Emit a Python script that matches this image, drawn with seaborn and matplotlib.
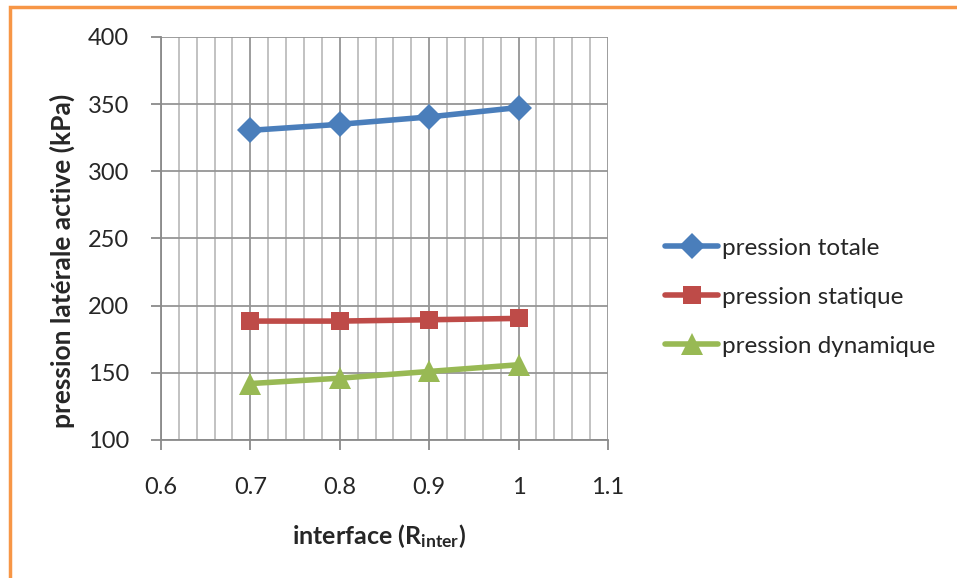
import matplotlib
matplotlib.use("Agg")
import matplotlib.pyplot as plt
import seaborn as sns
import pandas as pd
from matplotlib.patches import Rectangle
from matplotlib.ticker import MultipleLocator

# data
interface = [0.7, 0.8, 0.9, 1.0]
pression_totale = [330.5, 335, 340.5, 347.5]
pression_statique = [188.5, 188.5, 189.5, 190.5]
pression_dynamique = [142, 146, 151, 156]
series_names = ["pression totale", "pression statique", "pression dynamique"]
series_colors = ["#4a7ebb", "#be4b48", "#98b954"]
series_markers = ["D", "s", "^"]
x_ticks = [0.6, 0.7, 0.8, 0.9, 1.0, 1.1]
x_ticklabels = ["0.6", "0.7", "0.8", "0.9", "1", "1.1"]

sns.set_style("white")
plt.rcParams["font.family"] = ["Lato", "DejaVu Sans"]
plt.rcParams["mathtext.default"] = "regular"

df = pd.DataFrame({
    "interface": interface * 3,
    "pression": pression_totale + pression_statique + pression_dynamique,
    "serie": [s for s in series_names for _ in interface],
})

fig = plt.figure(figsize=(9.57, 5.78), dpi=100)
ax = fig.add_axes([0.1682, 0.2388, 0.4671, 0.6972])

sns.lineplot(data=df, x="interface", y="pression", hue="serie", style="serie",
             palette=dict(zip(series_names, series_colors)),
             markers=dict(zip(series_names, series_markers)),
             dashes=False, linewidth=4, markersize=13.5,
             markeredgewidth=0, ax=ax, zorder=3)

# triangles look a bit bigger in the original
for line in ax.lines:
    if line.get_marker() == "^":
        line.set_markersize(15.5)

ax.set_xlim(0.6, 1.1)
ax.set_ylim(100, 400)
ax.xaxis.set_minor_locator(MultipleLocator(0.02))
ax.yaxis.set_major_locator(MultipleLocator(50))
ax.set_xticks(x_ticks)
ax.set_xticklabels(x_ticklabels)

ax.grid(which="major", axis="both", color="#959595", linewidth=1.3)
ax.grid(which="minor", axis="x", color="#bdbdbd", linewidth=1.3)
ax.set_axisbelow(True)

for side in ["top", "right"]:
    ax.spines[side].set_visible(False)
for side in ["left", "bottom"]:
    ax.spines[side].set_color("#8a8a8a")
    ax.spines[side].set_linewidth(1.3)

ax.tick_params(axis="both", which="major", direction="out", length=7, width=1.3,
               color="#8a8a8a", labelsize=17, pad=16, left=True, bottom=True)
ax.tick_params(axis="x", which="minor", length=0)
ax.tick_params(axis="x", which="major", pad=20)

ax.set_xlabel(r"interface (R$_{inter}$)", fontsize=18, fontweight="bold")
ax.set_ylabel("pression latérale active (kPa)", fontsize=19, fontweight="bold")
ax.xaxis.set_label_coords(0.488, -0.205)
ax.yaxis.set_label_coords(-0.192, 0.444)

leg = ax.legend(loc="center left", bbox_to_anchor=(1.1275, 0.354), frameon=False,
                borderaxespad=0, borderpad=0,
                fontsize=17.5, handlelength=2.2, handletextpad=0.15, labelspacing=1.15)
for h in leg.legend_handles:
    if h.get_marker() == "^":
        h.set_markersize(15.5)

# orange outer border like the spreadsheet chart area
fig.patches.append(Rectangle((10 / 957, -0.05), 1.1, 1 - 6.5 / 578 + 0.05,
                             transform=fig.transFigure, fill=False,
                             edgecolor="#f79646", linewidth=2.5))

fig.savefig("out.png", dpi=100)
